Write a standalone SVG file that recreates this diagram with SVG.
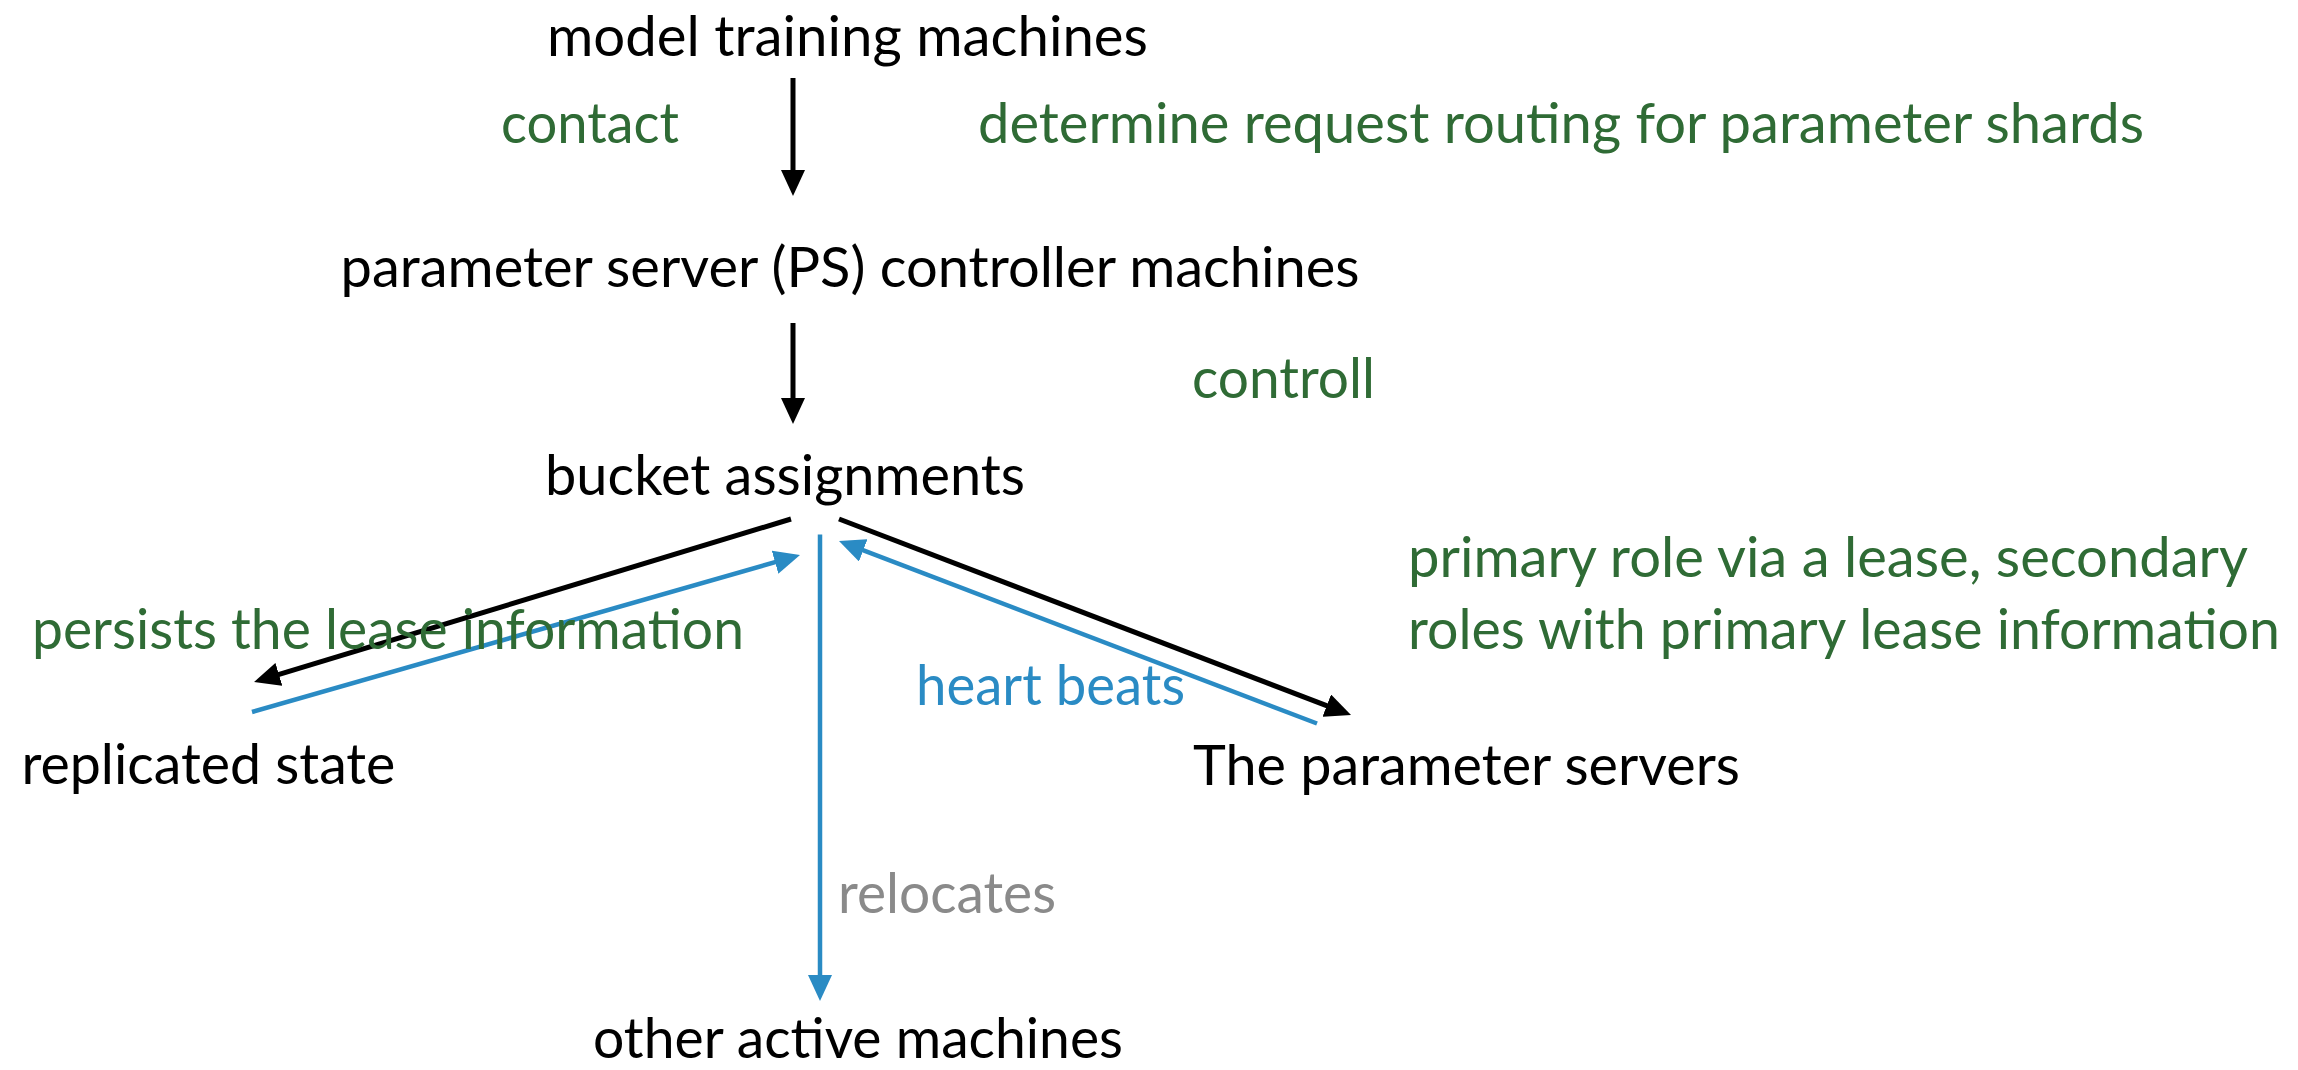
<svg xmlns="http://www.w3.org/2000/svg" width="2298" height="1070" viewBox="0 0 2298 1070">
<style>
text { font-family: Lato, "Liberation Sans", "DejaVu Sans", sans-serif; font-size: 56px; }
.node { fill: #000000; }
.lbl { fill: #2f6b35; }
.blue { fill: #2a8bc4; }
.gray { fill: #8a8a8a; }
.k { stroke: #000000; stroke-width: 5; fill: none; }
.b { stroke: #2a8bc4; stroke-width: 4.5; fill: none; }
</style>
<defs>
<marker id="ak" markerUnits="userSpaceOnUse" viewBox="0 0 26 24" refX="11" refY="12" markerWidth="26" markerHeight="24" orient="auto">
<path d="M0,0 L26,12 L0,24 z" fill="#000000"/>
</marker>
<marker id="ab" markerUnits="userSpaceOnUse" viewBox="0 0 26 24" refX="11" refY="12" markerWidth="26" markerHeight="24" orient="auto">
<path d="M0,0 L26,12 L0,24 z" fill="#2a8bc4"/>
</marker>
</defs>
<rect width="2298" height="1070" fill="#ffffff"/>
<g id="connectors">
<line class="k" x1="793" y1="78" x2="793" y2="181" marker-end="url(#ak)"/>
<line class="k" x1="793" y1="323" x2="793" y2="409" marker-end="url(#ak)"/>
<line class="k" x1="791" y1="519" x2="268.4" y2="677.6" marker-end="url(#ak)"/>
<line class="b" x1="252" y1="712" x2="785.6" y2="559.1" marker-end="url(#ab)"/>
<line class="k" x1="839" y1="519" x2="1337" y2="709.6" marker-end="url(#ak)"/>
<line class="b" x1="1317" y1="723.5" x2="853" y2="546.4" marker-end="url(#ab)"/>
<line class="b" x1="820" y1="534.5" x2="820" y2="986" marker-end="url(#ab)"/>
<text class="lbl" x="501" y="143" textLength="178" lengthAdjust="spacingAndGlyphs">contact</text>
<text class="lbl" x="978" y="143" textLength="1166" lengthAdjust="spacingAndGlyphs">determine request routing for parameter shards</text>
<text class="lbl" x="1192" y="398" textLength="183" lengthAdjust="spacingAndGlyphs">controll</text>
<text class="lbl" x="32" y="648.6" textLength="712" lengthAdjust="spacingAndGlyphs">persists the lease information</text>
<text class="lbl" x="1408" y="577" textLength="840" lengthAdjust="spacingAndGlyphs">primary role via a lease, secondary</text>
<text class="lbl" x="1408" y="648.6" textLength="872" lengthAdjust="spacingAndGlyphs">roles with primary lease information</text>
<text class="blue" x="916" y="704.6" textLength="269" lengthAdjust="spacingAndGlyphs">heart beats</text>
<text class="gray" x="838" y="912.7" textLength="218" lengthAdjust="spacingAndGlyphs">relocates</text>
</g>
<g id="node-model-training">
<text class="node" x="547" y="55.5" textLength="601" lengthAdjust="spacingAndGlyphs">model training machines</text>
</g>
<g id="node-ps-controller">
<text class="node" x="340.6" y="287" textLength="1019" lengthAdjust="spacingAndGlyphs">parameter server (PS) controller machines</text>
</g>
<g id="node-bucket-assignments">
<text class="node" x="545" y="494.6" textLength="480" lengthAdjust="spacingAndGlyphs">bucket assignments</text>
</g>
<g id="node-replicated-state">
<text class="node" x="21.4" y="784" textLength="374" lengthAdjust="spacingAndGlyphs">replicated state</text>
</g>
<g id="node-parameter-servers">
<text class="node" x="1193" y="784.8" textLength="547" lengthAdjust="spacingAndGlyphs">The parameter servers</text>
</g>
<g id="node-other-active">
<text class="node" x="593" y="1058" textLength="530" lengthAdjust="spacingAndGlyphs">other active machines</text>
</g>
</svg>
